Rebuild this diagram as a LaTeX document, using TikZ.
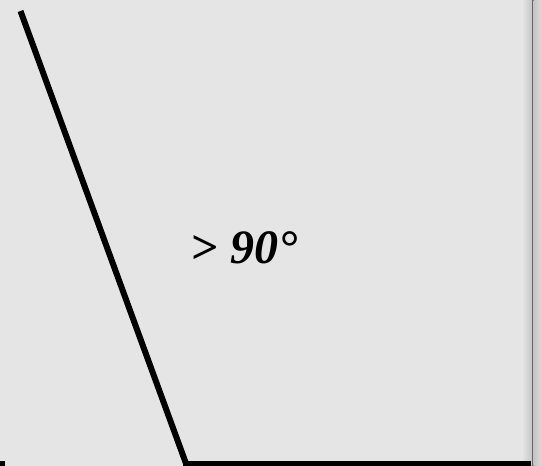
\documentclass[tikz,border=0pt]{standalone}
\usepackage{fontspec}
\setmainfont{Liberation Serif}
\begin{document}
\begin{tikzpicture}[x=1pt,y=-1pt,
  ray/.style={line width=6pt,black},
  lbl/.style={font=\fontsize{48}{50}\selectfont\bfseries\itshape,inner sep=0pt}]
\useasboundingbox (0,0) rectangle (541,466);
\fill[gray!20!white] (0,0) rectangle (541,466);
\shade[left color=gray!20!white,right color=gray!45!white] (522,0) rectangle (532,466);
\fill[gray!80!black] (531.5,0) rectangle (533.5,466);
\shade[left color=gray!45!white,right color=gray!30!white] (533.5,0) rectangle (541,466);
\coordinate (top) at (20.5,11);
\coordinate (vertex) at (186,463.5);
\coordinate (right) at (531,463.5);
\draw[ray] (top) -- (vertex);
\draw[ray,line cap=butt] ([xshift=-3pt]vertex) -- (right);
\fill[black] (0,461) rectangle (5,466);
\node[lbl,anchor=base] (angle) at (244,263) {> 90°};
\end{tikzpicture}
\end{document}
